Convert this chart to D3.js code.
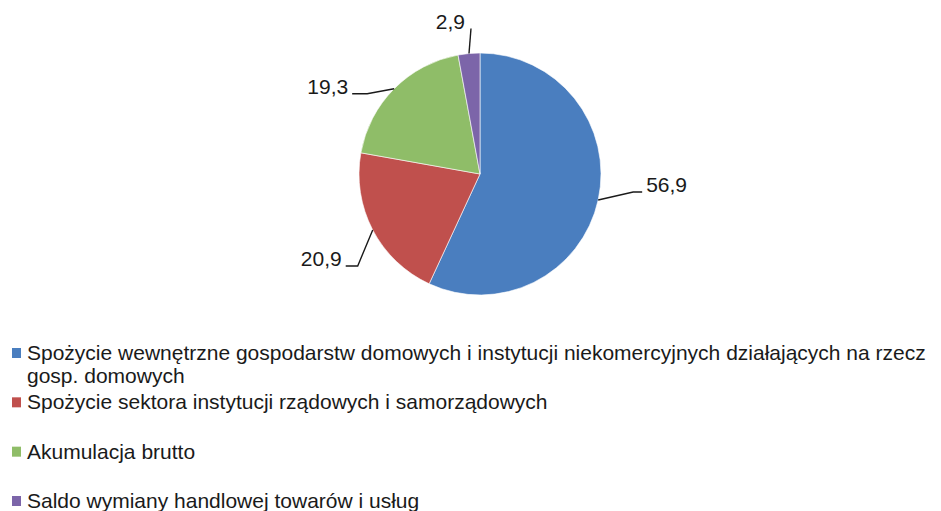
<!DOCTYPE html>
<html>
<head>
<meta charset="utf-8">
<script src="https://cdn.jsdelivr.net/npm/d3@7"></script>
<style>
  body { margin: 0; background: #fff; }
  svg { display: block; font-family: "Liberation Sans", Arial, sans-serif; }
  text { fill: #1a1a1a; }
</style>
</head>
<body>
<svg id="chart"></svg>
<script>
// data
var categories = [
    "Spożycie wewnętrzne gospodarstw domowych i instytucji niekomercyjnych działających na rzecz gosp. domowych",
    "Spożycie sektora instytucji rządowych i samorządowych",
    "Akumulacja brutto",
    "Saldo wymiany handlowej towarów i usług"
];
var values = [56.9, 20.9, 19.3, 2.9];
var valueLabels = ["56,9", "20,9", "19,3", "2,9"];
var colors = ["#4a7ebf", "#c0504d", "#8fbd68", "#7c65a9"];

var svgWidth = 941;
var svgHeight = 511;

// leader line elbows, offset from slice edge point (layout only)
var elbowOffset = [[35, -8], [-15, 36], [-27, 5], [2, -25]];
var tailLen = [9, -12, -15, 0];

var svg = d3.select("#chart")
    .attr("width", svgWidth)
    .attr("height", svgHeight);

var cx = 480, cy = 174, radius = 121;

var pie = d3.pie().sort(null).value(function (d) { return d; });
var arcs = pie(values);
var arc = d3.arc().innerRadius(0).outerRadius(radius);

var g = svg.append("g").attr("transform", "translate(" + cx + "," + cy + ")");

g.selectAll(".slice")
    .data(arcs)
    .enter()
    .append("path")
    .attr("class", "slice")
    .attr("d", arc)
    .attr("fill", function (d, i) { return colors[i]; })
    .attr("stroke", "#fff")
    .attr("stroke-width", 0.6);

// leader lines + labels
arcs.forEach(function (d, i) {
    var mid = (d.startAngle + d.endAngle) / 2;
    var p0 = [radius * Math.sin(mid), -radius * Math.cos(mid)];
    var p1 = [p0[0] + elbowOffset[i][0], p0[1] + elbowOffset[i][1]];
    var p2 = [p1[0] + tailLen[i], p1[1]];

    g.append("polyline")
        .attr("points", [p0, p1, p2].map(function (p) { return p.join(","); }).join(" "))
        .attr("fill", "none")
        .attr("stroke", "#1a1a1a")
        .attr("stroke-width", 1.4);

    var right = tailLen[i] > 0;
    g.append("text")
        .attr("x", p2[0] + (right ? 4 : -4) + (i == 3 ? -2 : 0))
        .attr("y", p2[1])
        .attr("text-anchor", right ? "start" : "end")
        .style("font-size", "21px")
        .text(valueLabels[i]);
});

// legend
var legendY = d3.scalePoint()
    .domain(categories)
    .range([360, 508]);

var legend = svg.selectAll(".legend")
    .data(categories)
    .enter()
    .append("g")
    .attr("class", "legend")
    .attr("transform", function (d) { return "translate(0," + legendY(d) + ")"; });

legend.append("rect")
    .attr("x", 12)
    .attr("y", -12)
    .attr("width", 9)
    .attr("height", 10)
    .attr("fill", function (d, i) { return colors[i]; });

var maxLine = 914;
legend.append("text")
    .attr("x", 27)
    .attr("y", 0)
    .style("font-size", "21px")
    .each(function (d) {
        var t = d3.select(this);
        var words = d.split(" ");
        var line = [];
        var ts = t.append("tspan").attr("x", 27).attr("dy", 0);
        words.forEach(function (w) {
            line.push(w);
            ts.text(line.join(" "));
            if (ts.node().getComputedTextLength() > maxLine && line.length > 1) {
                line.pop();
                ts.text(line.join(" "));
                line = [w];
                ts = t.append("tspan").attr("x", 27).attr("dy", 23).text(w);
            }
        });
    });
</script>
</body>
</html>
